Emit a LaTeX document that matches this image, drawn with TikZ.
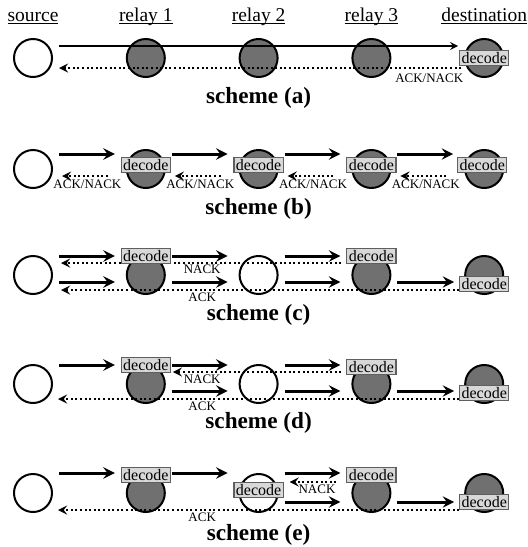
\documentclass[tikz,border=0pt]{standalone}
\usepackage{fontspec}
\setmainfont{Liberation Serif}
\usepackage{amsmath}
\usepackage{tikz}
\usetikzlibrary{calc, arrows, positioning}
\definecolor{nodegray}{RGB}{112,112,112}
\definecolor{boxfill}{RGB}{216,216,216}
\definecolor{boxline}{RGB}{95,95,95}
\tikzstyle{arrow}     = [line width=1.5pt,->,>=stealth]
\tikzstyle{dotarrow}  = [line width=1pt,dash pattern=on 1pt off 1.3pt,->,>=stealth]

\begin{document}
\begin{tikzpicture}[
    x=0.5pt, y=-0.5pt,
    node distance=36.4pt,
    idle/.style={circle,draw,line width=1pt,fill=white,minimum size=19pt,inner sep=0pt},
    busy/.style={idle,fill=nodegray},
    dec/.style={draw=boxline,fill=boxfill,line width=0.6pt,inner xsep=1pt,inner ysep=1pt,
      text height=5.5pt,text depth=0.1pt,font=\fontsize{8}{8}\selectfont},
    head/.style={anchor=base,font=\fontsize{9.75}{11}\selectfont},
    fb/.style={font=\fontsize{6.5}{7}\selectfont,inner sep=0pt},
    scheme/.style={font=\fontsize{11.6}{13}\selectfont\bfseries},
  ]
  \useasboundingbox (0,0) rectangle (528,547);

  % scheme (a)
  \node[idle] (as) at (33,58) {};
  \node[busy,right=of as] (ar1) {};
  \node[busy,right=of ar1] (ar2) {};
  \node[busy,right=of ar2] (ar3) {};
  \node[busy,right=of ar3] (ad) {};
  \node[head] (hs) at ($(as)+(0,-37)$) {$\underline{\smash[b]{\text{source}}}$};
  \node[head] (hr1) at ($(ar1)+(0,-37)$) {$\underline{\smash[b]{\text{relay 1}}}$};
  \node[head] (hr2) at ($(ar2)+(0,-37)$) {$\underline{\smash[b]{\text{relay 2}}}$};
  \node[head] (hr3) at ($(ar3)+(0,-37)$) {$\underline{\smash[b]{\text{relay 3}}}$};
  \node[head] (hd) at ($(ad)+(0,-37)$) {$\underline{\smash[b]{\text{destination}}}$};
  \draw[arrow,line width=0.8pt] ($(as.east)+(6,-12)$) -- ($(ad.west)+(-6,-12)$);
  \draw[dotarrow] ($(ad.west)+(-3,10)$) -- ($(as.east)+(6,10)$);
  \node[fb] (afb) at ($(ad.west)+(-35,20)$) {ACK/NACK};
  \node[dec] (adec) at (ad) {decode};
  \node[scheme] (la) at ($(ar2)+(0,40)$) {scheme (a)};

  % scheme (b)
  \node[idle] (bs) at (33,169) {};
  \node[busy,right=of bs] (br1) {};
  \node[busy,right=of br1] (br2) {};
  \node[busy,right=of br2] (br3) {};
  \node[busy,right=of br3] (bd) {};
  \draw[arrow] ($(bs.east)+(6,-15)$) -- ($(br1.west)+(-11,-15)$);
  \draw[arrow] ($(br1.east)+(6,-15)$) -- ($(br2.west)+(-11,-15)$);
  \draw[arrow] ($(br2.east)+(6,-15)$) -- ($(br3.west)+(-11,-15)$);
  \draw[arrow] ($(br3.east)+(6,-15)$) -- ($(bd.west)+(-11,-15)$);
  \draw[dotarrow] ($(br1.west)+(-18,7)$) -- ($(bs.east)+(9,7)$);
  \draw[dotarrow] ($(br2.west)+(-18,7)$) -- ($(br1.east)+(9,7)$);
  \draw[dotarrow] ($(br3.west)+(-18,7)$) -- ($(br2.east)+(9,7)$);
  \draw[dotarrow] ($(bd.west)+(-18,7)$) -- ($(br3.east)+(9,7)$);
  \node[fb] (bfb1) at ($(bs.east)!0.5!(br1.west)+(-2,15)$) {ACK/NACK};
  \node[fb] (bfb2) at ($(br1.east)!0.5!(br2.west)+(-2,15)$) {ACK/NACK};
  \node[fb] (bfb3) at ($(br2.east)!0.5!(br3.west)+(-2,15)$) {ACK/NACK};
  \node[fb] (bfb4) at ($(br3.east)!0.5!(bd.west)+(-2,15)$) {ACK/NACK};
  \node[dec] (bdec1) at ($(br1)+(0,-4)$) {decode};
  \node[dec] (bdec2) at ($(br2)+(0,-4)$) {decode};
  \node[dec] (bdec3) at ($(br3)+(0,-4)$) {decode};
  \node[dec] (bdec4) at ($(bd)+(-2,-4)$) {decode};
  \node[scheme] (lb) at ($(br2)+(0,40)$) {scheme (b)};

  % scheme (c)
  \node[idle] (cs) at (33,275) {};
  \node[busy,right=of cs] (cr1) {};
  \node[idle,right=of cr1] (cr2) {};
  \node[busy,right=of cr2] (cr3) {};
  \node[busy,right=of cr3] (cd) {};
  \draw[arrow] ($(cs.east)+(6,-19)$) -- ($(cr1.west)+(-11,-19)$);
  \draw[arrow] ($(cr1.east)+(6,-19)$) -- ($(cr2.west)+(-11,-19)$);
  \draw[arrow] ($(cr2.east)+(6,-19)$) -- ($(cr3.west)+(-11,-19)$);
  \draw[dotarrow] ($(cr3.west)+(-10,-12)$) -- ($(cs.east)+(8,-12)$);
  \draw[arrow] ($(cs.east)+(6,7)$) -- ($(cr1.west)+(-11,7)$);
  \draw[arrow] ($(cr1.east)+(6,7)$) -- ($(cr2.west)+(-11,7)$);
  \draw[arrow] ($(cr2.east)+(6,7)$) -- ($(cr3.west)+(-11,7)$);
  \draw[arrow] ($(cr3.east)+(6,7)$) -- ($(cd.west)+(-10,7)$);
  \draw[dotarrow] ($(cd.west)+(-5,15)$) -- ($(cs.east)+(8,15)$);
  \node[fb] (cnack) at ($(cr1.east)!0.5!(cr2.west)+(0,-6)$) {NACK};
  \node[fb] (cack) at ($(cr1.east)!0.5!(cr2.west)+(0,22)$) {ACK};
  \node[dec] (cdec1) at ($(cr1)+(0,-19)$) {decode};
  \node[dec] (cdec3) at ($(cr3)+(0,-19)$) {decode};
  \node[dec] (cdec4) at ($(cd)+(0,9)$) {decode};
  \node[scheme] (lc) at ($(cr2)+(0,40)$) {scheme (c)};

  % scheme (d)
  \node[idle] (ds) at (33,384) {};
  \node[busy,right=of ds] (dr1) {};
  \node[idle,right=of dr1] (dr2) {};
  \node[busy,right=of dr2] (dr3) {};
  \node[busy,right=of dr3] (dd) {};
  \draw[arrow] ($(ds.east)+(6,-19)$) -- ($(dr1.west)+(-11,-19)$);
  \draw[arrow] ($(dr1.east)+(6,-19)$) -- ($(dr2.west)+(-11,-19)$);
  \draw[arrow] ($(dr2.east)+(6,-19)$) -- ($(dr3.west)+(-11,-19)$);
  \draw[dotarrow] ($(dr3.west)+(-10,-12)$) -- ($(dr1.east)+(7,-12)$);
  \draw[arrow] ($(dr1.east)+(6,7)$) -- ($(dr2.west)+(-11,7)$);
  \draw[arrow] ($(dr2.east)+(6,7)$) -- ($(dr3.west)+(-11,7)$);
  \draw[arrow] ($(dr3.east)+(6,7)$) -- ($(dd.west)+(-10,7)$);
  \draw[dotarrow] ($(dd.west)+(-5,15)$) -- ($(ds.east)+(5,15)$);
  \node[fb] (dnack) at ($(dr1.east)!0.5!(dr2.west)+(0,-5)$) {NACK};
  \node[fb] (dack) at ($(dr1.east)!0.5!(dr2.west)+(0,22)$) {ACK};
  \node[dec] (ddec1) at ($(dr1)+(0,-19)$) {decode};
  \node[dec] (ddec3) at ($(dr3)+(0,-17)$) {decode};
  \node[dec] (ddec4) at ($(dd)+(0,9)$) {decode};
  \node[scheme] (ld) at ($(dr2)+(0,39)$) {scheme (d)};

  % scheme (e)
  \node[idle] (es) at (33,493) {};
  \node[busy,right=of es] (er1) {};
  \node[idle,right=of er1] (er2) {};
  \node[busy,right=of er2] (er3) {};
  \node[busy,right=of er3] (ed) {};
  \draw[arrow] ($(es.east)+(6,-20)$) -- ($(er1.west)+(-11,-20)$);
  \draw[arrow] ($(er1.east)+(6,-20)$) -- ($(er2.west)+(-11,-20)$);
  \draw[arrow] ($(er2.east)+(6,-20)$) -- ($(er3.west)+(-11,-20)$);
  \draw[dotarrow] ($(er3.west)+(-15,-11)$) -- ($(er2.east)+(11,-11)$);
  \draw[arrow] ($(er2.east)+(6,9)$) -- ($(er3.west)+(-11,9)$);
  \draw[arrow] ($(er3.east)+(6,9)$) -- ($(ed.west)+(-10,9)$);
  \draw[dotarrow] ($(ed.west)+(-5,17)$) -- ($(es.east)+(5,17)$);
  \node[fb] (enack) at ($(er2.east)!0.5!(er3.west)+(2,-4)$) {NACK};
  \node[fb] (eack) at ($(er1.east)!0.5!(er2.west)+(0,24)$) {ACK};
  \node[dec] (edec1) at ($(er1)+(0,-18)$) {decode};
  \node[dec] (edec2) at ($(er2)+(0,-3)$) {decode};
  \node[dec] (edec3) at ($(er3)+(0,-18)$) {decode};
  \node[dec] (edec4) at ($(ed)+(0,9)$) {decode};
  \node[scheme] (le) at ($(er2)+(0,42)$) {scheme (e)};
\end{tikzpicture}
\end{document}
